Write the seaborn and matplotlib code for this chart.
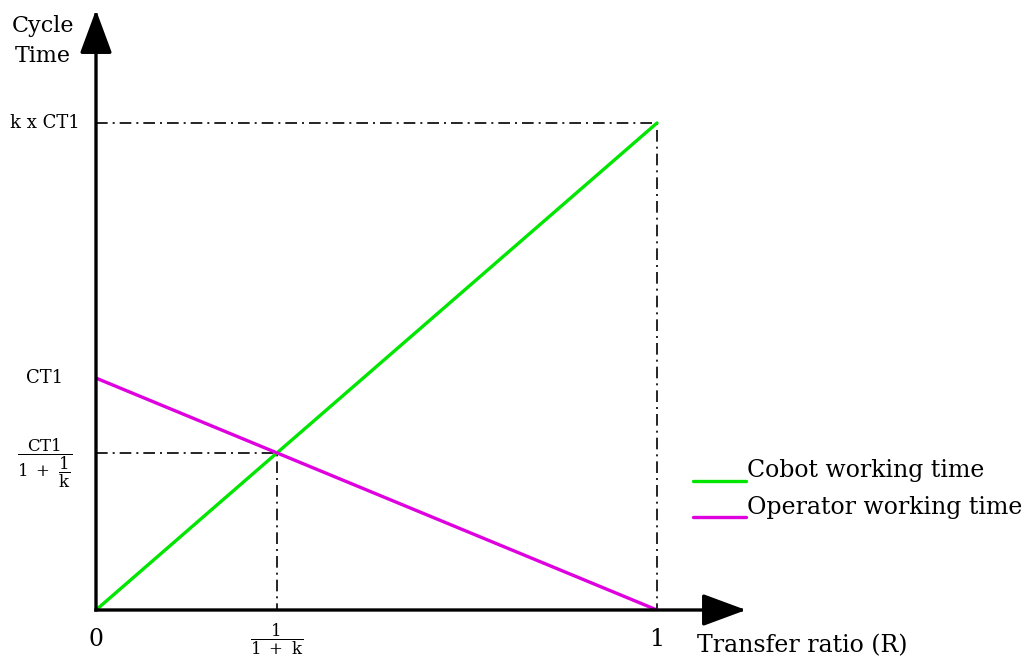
import numpy as np
import pandas as pd
import matplotlib
matplotlib.use("Agg")
import matplotlib.pyplot as plt
import matplotlib.transforms as mtransforms
import seaborn as sns
from matplotlib.legend_handler import HandlerLine2D

# Values (CT1 taken as the unit of time)
k = 2.1
CT1 = 1.0
ratio = [0.0, 1.0]
cobot_time = [0.0, k * CT1]
operator_time = [CT1, 0.0]
series_names = ["Cobot working time", "Operator working time"]
series_colors = ["#00E600", "#DF00DF"]

# balance point where both lines meet
r_eq = 1 / (1 + k)
t_eq = CT1 / (1 + 1 / k)

x_tick_labels = ["0", r"$\dfrac{1}{1\ +\ \mathrm{k}}$", "1"]
y_tick_labels = [r"$\dfrac{\mathrm{CT1}}{1\ +\ \dfrac{1}{\mathrm{k}}}$", "CT1", "k x CT1"]

df = pd.DataFrame({
    "R": ratio + ratio,
    "time": cobot_time + operator_time,
    "series": [series_names[0]] * 2 + [series_names[1]] * 2,
})

sns.set_style("white")
plt.rcParams["font.family"] = ["DejaVu Serif"]
plt.rcParams["mathtext.fontset"] = "dejavuserif"
plt.rcParams["text.color"] = "black"
plt.rcParams["xtick.color"] = "black"
plt.rcParams["ytick.color"] = "black"

W, H = 1032, 662
fig = plt.figure(figsize=(W / 100, H / 100), dpi=100)
# axes box in pixels: origin (96, 610), arrow tips near x=742 and y=13
ax = fig.add_axes([96 / W, 1 - 610 / H, (746 - 96) / W, (610 - 10) / H])
x_max = 1.1586
y_max = 1.232 * k * CT1
ax.set_xlim(0, x_max)
ax.set_ylim(0, y_max)
for s in ax.spines.values():
    s.set_visible(False)

sns.lineplot(data=df, x="R", y="time", hue="series",
             palette=dict(zip(series_names, series_colors)),
             linewidth=2.4, ax=ax)

# dash-dot guides
guide = dict(color="black", lw=1.2, linestyle=(0, (7, 3, 1.2, 3)), zorder=1)
ax.plot([0, 1, 1], [k * CT1, k * CT1, 0], **guide)
ax.plot([0, r_eq, r_eq], [t_eq, t_eq, 0], **guide)

# axes with arrow heads
arrow = dict(arrowstyle="-|>,head_length=2.7,head_width=1.0", mutation_scale=10,
             lw=2.4, color="black", shrinkA=0, shrinkB=0, capstyle="projecting")
ax.annotate("", xy=(x_max, 0), xytext=(0, 0), arrowprops=arrow, annotation_clip=False)
ax.annotate("", xy=(0, y_max), xytext=(0, 0), arrowprops=arrow, annotation_clip=False)

ax.set_xticks([0, r_eq, 1], x_tick_labels, fontsize=17)
ax.set_yticks([t_eq, CT1, k * CT1], y_tick_labels, fontsize=13)
ax.tick_params(axis="x", length=0, pad=21)
ax.tick_params(axis="y", length=0, pad=37)
for lbl in ax.get_xticklabels():
    lbl.set_verticalalignment("center")
ax.get_xticklabels()[1].set_fontsize(12)
for lbl in ax.get_yticklabels():
    lbl.set_horizontalalignment("center")
    lbl.set_verticalalignment("center")
frac_lbl = ax.get_yticklabels()[0]
frac_lbl.set_fontsize(12)
# nudge the stacked fraction down so its bar sits on the guide line
frac_lbl.set_transform(frac_lbl.get_transform() +
                       mtransforms.ScaledTranslation(0, -7.5 / 72, fig.dpi_scale_trans))
ax.set_xlabel("")
ax.set_ylabel("")

fig.text(43 / W, 1 - 41 / H, "Cycle\nTime", ha="center", va="center",
         fontsize=16, linespacing=1.5)
fig.text(697 / W, 1 - 646 / H, "Transfer ratio (R)", ha="left", va="center",
         fontsize=17)


class BaselineLine(HandlerLine2D):
    # put the legend line at the text baseline, like an underline
    def create_artists(self, legend, orig_handle, xdescent, ydescent,
                       width, height, fontsize, trans):
        arts = super().create_artists(legend, orig_handle, xdescent, ydescent,
                                      width, height, fontsize, trans)
        for a in arts:
            a.set_ydata(np.asarray(a.get_ydata()) - 0.72 * height)
        return arts


handles, labels = ax.get_legend_handles_labels()
ax.legend(handles, labels, handler_map={h: BaselineLine() for h in handles},
          loc="upper left", bbox_to_anchor=(693 / W, 1 - 459 / H),
          bbox_transform=fig.transFigure, frameon=False, borderpad=0,
          borderaxespad=0, handlelength=2.25, handletextpad=0.05,
          labelspacing=0.58, fontsize=17)

fig.savefig("out.png", dpi=100)
